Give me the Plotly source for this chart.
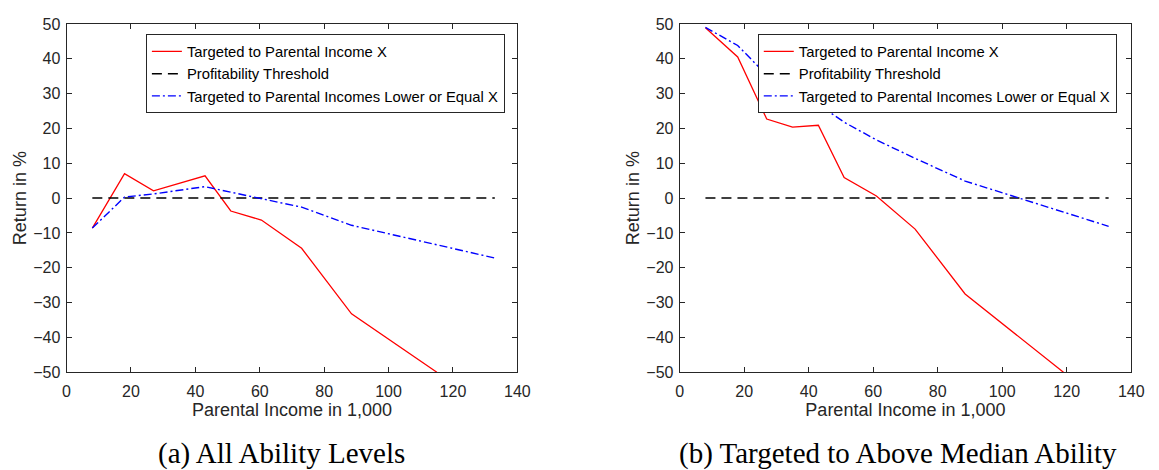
import plotly.graph_objects as go

# ---- data ----
x_ticks = [0, 20, 40, 60, 80, 100, 120, 140]
y_ticks = [-50, -40, -30, -20, -10, 0, 10, 20, 30, 40, 50]

income_a_red = [8, 18, 27, 43, 51, 60.5, 73, 88.5, 115]
return_a_red = [-8.6, 7.0, 2.1, 6.4, -3.7, -6.3, -14.4, -33.2, -50.0]
income_a_blue = [8, 18, 27, 43, 51, 60.5, 73, 88.5, 133]
return_a_blue = [-8.6, 0.3, 1.2, 3.3, 1.7, -0.1, -2.6, -7.8, -17.2]

income_b_red = [8, 18, 27, 35, 43, 51, 61, 73, 88.5, 119]
return_b_red = [48.9, 40.5, 22.7, 20.4, 20.9, 5.9, 0.6, -8.9, -27.5, -50.0]
income_b_blue = [8, 18, 27, 35, 43, 51, 61, 73, 88.5, 133]
return_b_blue = [49.0, 43.8, 35.3, 29.3, 26.9, 21.8, 16.7, 11.4, 4.9, -8.1]

threshold_x = [8, 133]
threshold_y = [0, 0]

names = ["Targeted to Parental Income X",
         "Profitability Threshold",
         "Targeted to Parental Incomes Lower or Equal X"]
captions = ["(a) All Ability Levels", "(b) Targeted to Above Median Ability"]
x_title = "Parental Income in 1,000"
y_title = "Return in %"

W, H = 1159, 470
AX = "#262626"
SANS = "Liberation Sans, Arial, Helvetica, sans-serif"

fig = go.Figure()

panels = [
    ("x", "y", "legend", income_a_red, return_a_red, income_a_blue, return_a_blue),
    ("x2", "y2", "legend2", income_b_red, return_b_red, income_b_blue, return_b_blue),
]
for xa, ya, lg, xr, yr, xb, yb in panels:
    fig.add_trace(go.Scatter(x=xr, y=yr, mode="lines", name=names[0],
                             line=dict(color="#ff0000", width=1.3),
                             xaxis=xa, yaxis=ya, legend=lg))
    fig.add_trace(go.Scatter(x=threshold_x, y=threshold_y, mode="lines", name=names[1],
                             line=dict(color="#000000", width=1.5, dash="10px,6px"),
                             xaxis=xa, yaxis=ya, legend=lg))
    fig.add_trace(go.Scatter(x=xb, y=yb, mode="lines", name=names[2],
                             line=dict(color="#0000ff", width=1.4, dash="8px,3px,2px,3px"),
                             xaxis=xa, yaxis=ya, legend=lg))

def xax(dom, anchor):
    return dict(domain=dom, anchor=anchor, range=[0, 140], tickvals=x_ticks,
                showgrid=False, zeroline=False, showline=True, linecolor=AX,
                linewidth=1, mirror="ticks", ticks="inside", ticklen=5,
                tickcolor=AX, tickfont=dict(family=SANS, size=16, color=AX),
                ticklabelstandoff=4,
                title=dict(text=x_title, font=dict(family=SANS, size=18, color=AX),
                           standoff=2))

def yax(dom, anchor):
    return dict(domain=dom, anchor=anchor, range=[-50, 50], tickvals=y_ticks,
                showgrid=False, zeroline=False, showline=True, linecolor=AX,
                linewidth=1, mirror="ticks", ticks="inside", ticklen=5,
                tickcolor=AX, tickfont=dict(family=SANS, size=16, color=AX),
                ticklabelstandoff=2,
                title=dict(text=y_title, font=dict(family=SANS, size=18, color=AX),
                           standoff=1))

ydom = [1 - 378 / H, 1 - 16.5 / H]
legfont = dict(family=SANS, size=14.8, color="#000000")
fig.update_layout(
    width=W, height=H, autosize=False,
    margin=dict(l=0, r=0, t=0, b=0),
    paper_bgcolor="white", plot_bgcolor="white",
    xaxis=xax([63.5 / W, 521 / W], "y"),
    yaxis=yax(ydom, "x"),
    xaxis2=xax([685.7 / W, 1144 / W], "y2"),
    yaxis2=yax(ydom, "x2"),
    legend=dict(x=144 / W, y=1 - 27.3 / H, xanchor="left", yanchor="top",
                bgcolor="white", bordercolor=AX, borderwidth=1, font=legfont,
                tracegroupgap=0),
    legend2=dict(x=765 / W, y=1 - 27.3 / H, xanchor="left", yanchor="top",
                 bgcolor="white", bordercolor=AX, borderwidth=1, font=legfont,
                 tracegroupgap=0),
    showlegend=True,
)

for cx, txt in zip([281.5, 907.5], captions):
    fig.add_annotation(text=txt, xref="paper", yref="paper", x=cx / W, y=1 - 462 / H,
                       xanchor="center", yanchor="middle", showarrow=False,
                       font=dict(family="Liberation Serif, Times New Roman, serif",
                                 size=29, color="#000000"))

fig.write_html("out.html")
